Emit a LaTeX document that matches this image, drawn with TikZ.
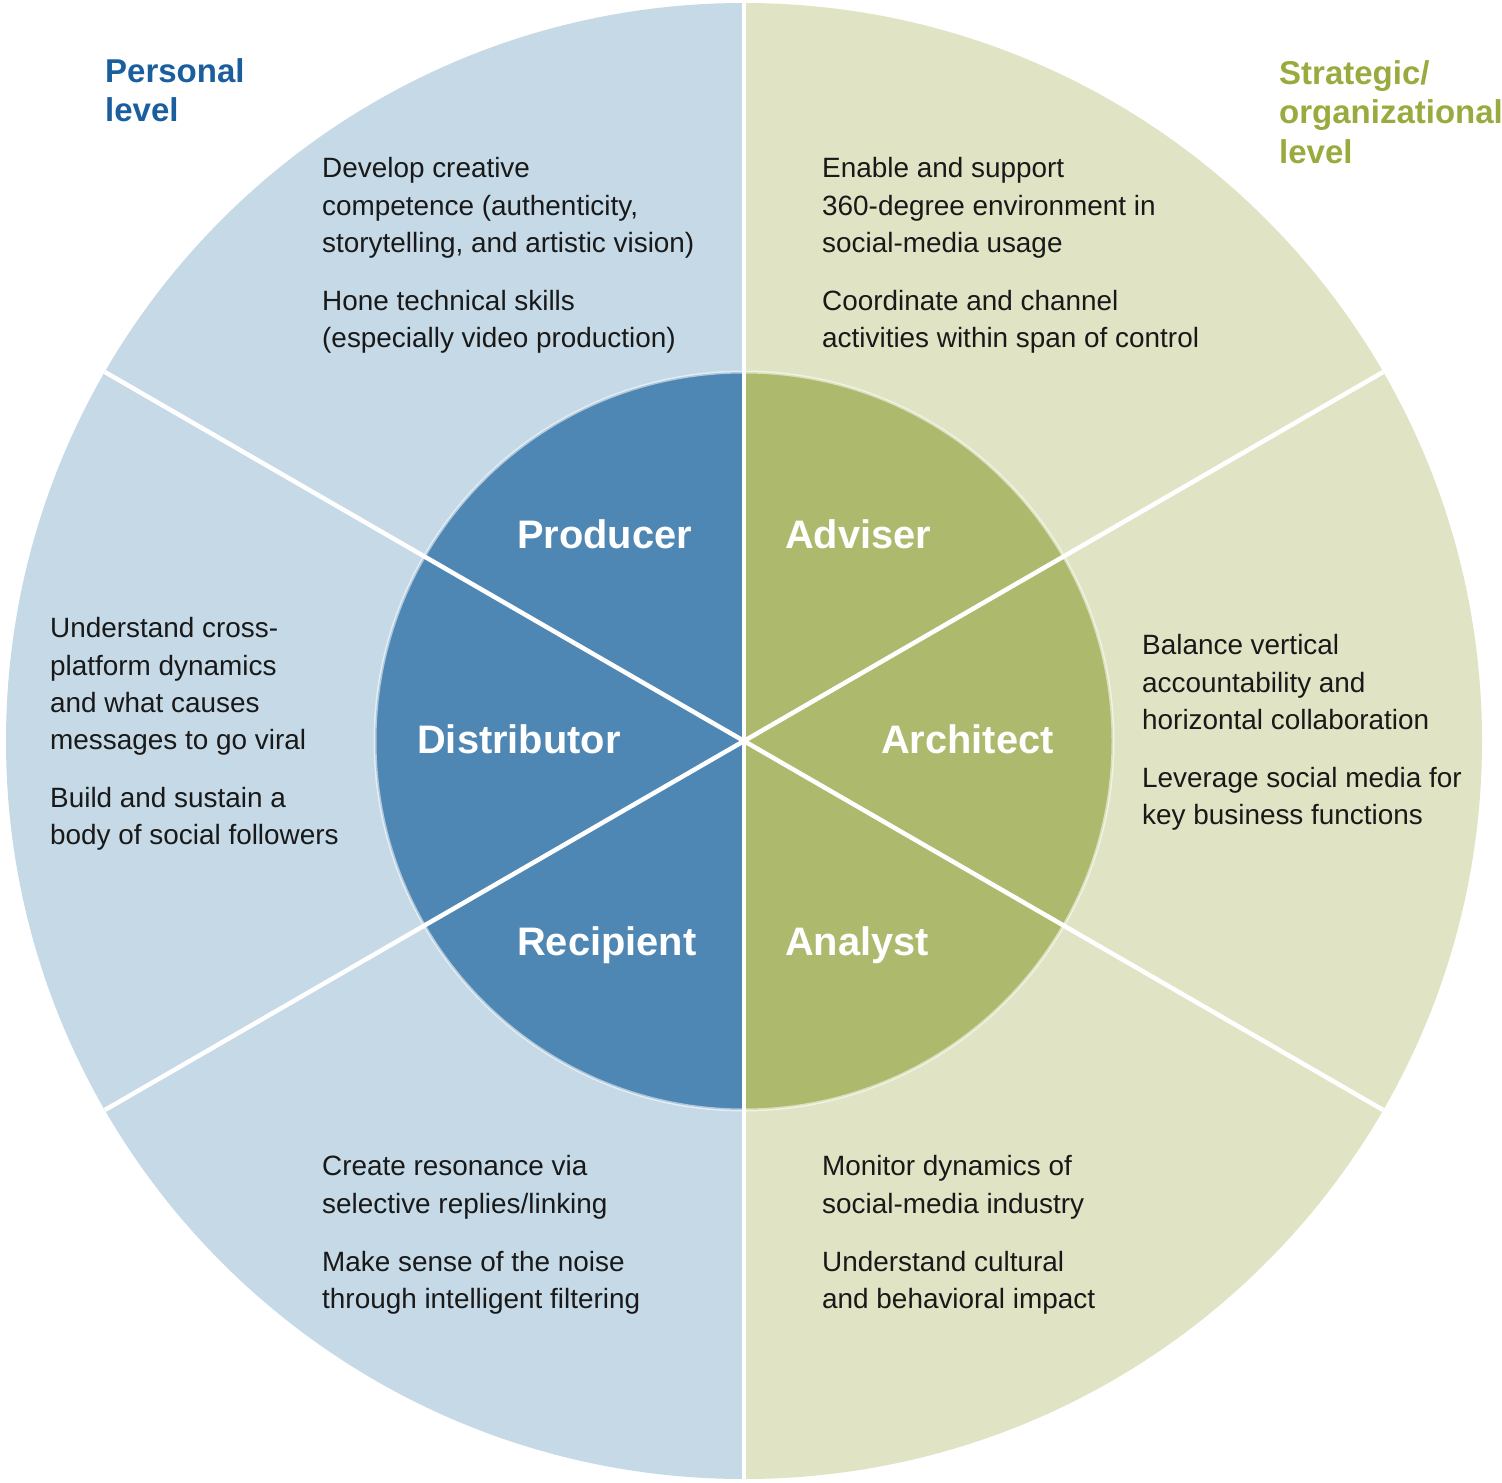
\documentclass[tikz,border=0pt]{standalone}
\usepackage{fontspec}
\setmainfont{Liberation Sans}
\definecolor{persbg}{HTML}{C5D9E6}
\definecolor{persfg}{HTML}{4F87B4}
\definecolor{persink}{HTML}{1B5E9E}
\definecolor{stratbg}{HTML}{E0E4C4}
\definecolor{stratfg}{HTML}{ADB96C}
\definecolor{stratink}{HTML}{9BAA3F}
\newcommand{\outerR}{738pt}
\newcommand{\innerR}{369pt}

\begin{document}
\begin{tikzpicture}[x=1pt, y=-1pt,
	txt/.style={anchor=north west, inner sep=0pt, align=left, text=black!90, font=\fontsize{27.9}{37.2}\selectfont},
	role/.style={anchor=base west, inner sep=0pt, text=white, font=\fontsize{39.8}{44}\selectfont\bfseries},
	lvl/.style={anchor=north west, inner sep=0pt, align=left, font=\fontsize{33}{39.5}\selectfont\bfseries}]
	\useasboundingbox (0,0) rectangle (1502,1483);
	\coordinate (c) at (744,741);
	\begin{scope}
		\clip (0,0) rectangle (744,1483);
		\fill[persbg] (c) circle (\outerR);
		\fill[persfg] (c) circle (\innerR);
	\end{scope}
	\begin{scope}
		\clip (744,0) rectangle (1502,1483);
		\fill[stratbg] (c) circle (\outerR);
		\fill[stratfg] (c) circle (\innerR);
	\end{scope}
	\draw[white, opacity=.55, line width=3pt] (c) circle (\innerR);
	\foreach \a in {30,90,150,210,270,330}
		\draw[white, line width=4.5pt] (c) -- ++(\a:\outerR);

	\node[lvl, text=persink] (personal) at (105,58) {Personal\\level};
	\node[lvl, text=stratink] (strategic) at (1279,60) {Strategic/\\organizational\\level};

	\node[role] (producer) at (517,548) {Producer};
	\node[role] (adviser) at (785,548) {Adviser};
	\node[role] (distributor) at (417,753) {Distributor};
	\node[role] (architect) at (881,753) {Architect};
	\node[role] (recipient) at (517,955) {Recipient};
	\node[role] (analyst) at (785,955) {Analyst};

	\node[txt] (prodtxt) at (322,157.5) {Develop creative\\competence (authenticity,\\storytelling, and artistic vision)\\[21pt]Hone technical skills\\(especially video production)};
	\node[txt] (advtxt) at (822,157.5) {Enable and support\\360-degree environment in\\social-media usage\\[21pt]Coordinate and channel\\activities within span of control};
	\node[txt] (disttxt) at (50,617.5) {Understand cross-\\platform dynamics\\and what causes\\messages to go viral\\[21pt]Build and sustain a\\body of social followers};
	\node[txt] (archtxt) at (1142,634.5) {Balance vertical\\accountability and\\horizontal collaboration\\[21pt]Leverage social media for\\key business functions};
	\node[txt] (recitxt) at (322,1155.5) {Create resonance via\\selective replies/linking\\[21pt]Make sense of the noise\\through intelligent filtering};
	\node[txt] (analtxt) at (822,1155.5) {Monitor dynamics of\\social-media industry\\[21pt]Understand cultural\\and behavioral impact};
\end{tikzpicture}
\end{document}
